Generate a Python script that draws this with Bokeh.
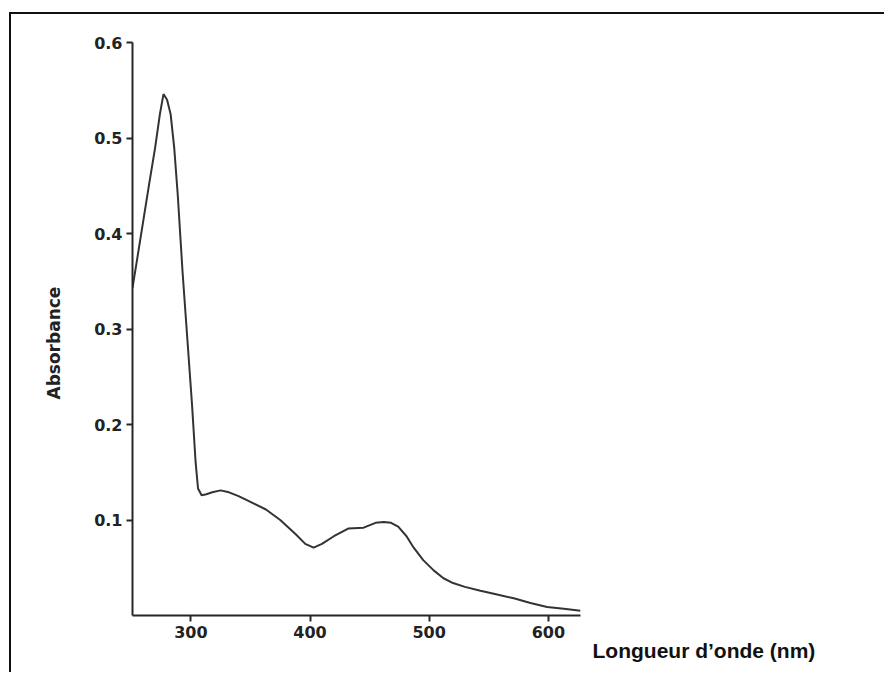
from bokeh.plotting import figure
from bokeh.models import FixedTicker, Title
from bokeh.embed import file_html
from bokeh.resources import INLINE

# Data (wavelength in nm, absorbance)
wavelength = [251, 255, 260, 265, 270, 274, 277, 280, 283, 286, 289, 293, 297,
              301, 304, 306, 309, 313, 318, 325, 332, 340, 350, 363, 375, 388,
              396, 403, 410, 420, 432, 445, 455, 462, 468, 474, 481, 487, 495,
              504, 512, 520, 530, 543, 557, 571, 585, 599, 613, 627]
absorbance = [0.343, 0.374, 0.413, 0.452, 0.490, 0.525, 0.546, 0.540, 0.525,
              0.490, 0.440, 0.360, 0.290, 0.220, 0.160, 0.133, 0.126, 0.127,
              0.129, 0.131, 0.129, 0.125, 0.119, 0.111, 0.100, 0.085, 0.075,
              0.071, 0.075, 0.083, 0.091, 0.092, 0.097, 0.098, 0.097, 0.093,
              0.083, 0.071, 0.058, 0.047, 0.039, 0.034, 0.030, 0.026, 0.022,
              0.018, 0.013, 0.009, 0.007, 0.005]
x_ticks = [300, 400, 500, 600]
y_ticks = [0.1, 0.2, 0.3, 0.4, 0.5, 0.6]
x_label_text = "Longueur d\u2019onde (nm)"
y_label_text = "Absorbance"

INK = "#262626"

p = figure(width=875, height=660, x_range=(251, 627), y_range=(0, 0.6),
           output_backend="svg", toolbar_location=None,
           min_border_left=121, min_border_top=28, min_border_right=306,
           min_border_bottom=59)
p.styles = {"border-left": "2px solid #111", "border-top": "2px solid #111",
            "margin-left": "9px", "margin-top": "12px"}
p.outline_line_color = None
p.grid.visible = False
p.background_fill_color = "white"
p.border_fill_color = "white"

p.line(wavelength, absorbance, line_color="#333333", line_width=2)

for ax in (p.xaxis[0], p.yaxis[0]):
    ax.axis_line_color = INK
    ax.axis_line_width = 2
    ax.major_tick_line_color = INK
    ax.major_tick_line_width = 2
    ax.major_tick_in = 0
    ax.major_tick_out = 6
    ax.minor_tick_line_color = None
    ax.major_label_text_font = "DejaVu Sans"
    ax.major_label_text_font_style = "bold"
    ax.major_label_text_font_size = "16px"
    ax.major_label_text_color = "#222222"
    ax.major_label_standoff = 4

p.xaxis.ticker = FixedTicker(ticks=x_ticks)
p.yaxis.ticker = FixedTicker(ticks=y_ticks)

ytitle = Title(text=y_label_text, align="left", offset=216, standoff=56,
               text_font="DejaVu Sans", text_font_style="bold",
               text_font_size="17px", text_color="#222222")
xtitle = Title(text=x_label_text, align="left", offset=460, standoff=0,
               text_font="Liberation Sans", text_font_style="bold",
               text_font_size="21px", text_color="#111111")
try:
    xtitle.standoff = -8
except Exception:
    pass
p.add_layout(ytitle, "left")
p.add_layout(xtitle, "below")

open("out.html", "w").write(file_html(p, INLINE))
